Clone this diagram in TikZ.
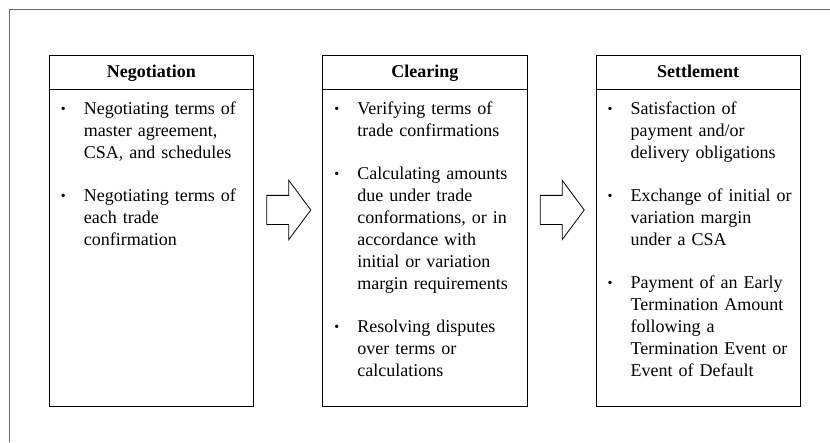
\documentclass[tikz,border=0pt]{standalone}
\usepackage{fontspec}
\setmainfont{Liberation Serif}
\usetikzlibrary{calc,positioning}
\usepackage{xcolor}
\definecolor{frame_gray}{RGB}{105,105,105}
% one bulleted entry of a stage box, and the gap between entries
\newcommand{\stageitem}[1]{\hangindent=23pt\hangafter=1\noindent\strut\makebox[23pt][l]{\raisebox{0.8pt}{\fontsize{14}{14}\selectfont\textbullet}}#1\par}
\newcommand{\stagegap}{\vspace{21.3pt}}
\tikzset{
  stage/.style      = {rectangle, draw=black, line width=1pt, minimum width=204.4pt, minimum height=350pt, inner sep=0pt, outer sep=0pt},
  hdrline/.style    = {black, line width=1pt},
  headlbl/.style    = {font=\fontsize{18}{22}\selectfont\bfseries, inner sep=0pt, anchor=base},
  itemlbl/.style    = {font=\fontsize{18}{22}\selectfont, text width=190pt, inner sep=0pt, anchor=north west},
  framepath/.style  = {frame_gray, line width=1.3pt},
  arrowshape/.style = {draw=black, line width=0.8pt, fill=white, line join=miter},
  stagearrow/.pic   = {\draw[arrowshape] (-22,-14.6) -- (0,-14.6) -- (0,-29.6) -- (22,0) -- (0,29.6) -- (0,14.6) -- (-22,14.6) -- cycle;}
}

\begin{document}
\begin{tikzpicture}[x=1pt, y=1pt]
    \useasboundingbox (0,0) rectangle (830,442);

    % Outer frame (only its top and left edges are in view)
    \draw[framepath] (9.5,0) -- (9.5,432.5) -- (830,432.5);

    % ----- Stage boxes -----
    \node[stage] (S1) at (151.4,211) {};
    \node[stage, right=69pt of S1] (S2) {};
    \node[stage, right=69pt of S2] (S3) {};

    % ----- Headers -----
    \foreach \i/\title in {1/Negotiation,2/Clearing,3/Settlement}{
      \node[headlbl] (T\i) at ($(S\i.north)+(0,-22)$) {\title};
      \draw[hdrline] ($(S\i.north west)+(0,-33.3)$) -- ($(S\i.north east)+(0,-33.3)$);
    }

    % ----- Item lists -----
    \node[itemlbl] (L1) at ($(S1.north west)+(11.5,-42.5)$) {%
      \stageitem{Negotiating terms of\newline master agreement,\newline CSA, and schedules}\stagegap
      \stageitem{Negotiating terms of\newline each trade\newline confirmation}};
    \node[itemlbl] (L2) at ($(S2.north west)+(11.5,-42.5)$) {%
      \stageitem{Verifying terms of\newline trade confirmations}\stagegap
      \stageitem{Calculating amounts\newline due under trade\newline conformations, or in\newline accordance with\newline initial or variation\newline margin requirements}\stagegap
      \stageitem{Resolving disputes\newline over terms or\newline calculations}};
    \node[itemlbl] (L3) at ($(S3.north west)+(11.5,-42.5)$) {%
      \stageitem{Satisfaction of\newline payment and/or\newline delivery obligations}\stagegap
      \stageitem{Exchange of initial or\newline variation margin\newline under a CSA}\stagegap
      \stageitem{Payment of an Early\newline Termination Amount\newline following a\newline Termination Event or\newline Event of Default}};

    % ----- Block arrows between stages -----
    \foreach \a/\b in {1/2,2/3}{
      \coordinate (A\a) at ($(S\a.east)!0.5!(S\b.west)+(0.7,21)$);
      \pic at (A\a) {stagearrow};
    }
\end{tikzpicture}
\end{document}
